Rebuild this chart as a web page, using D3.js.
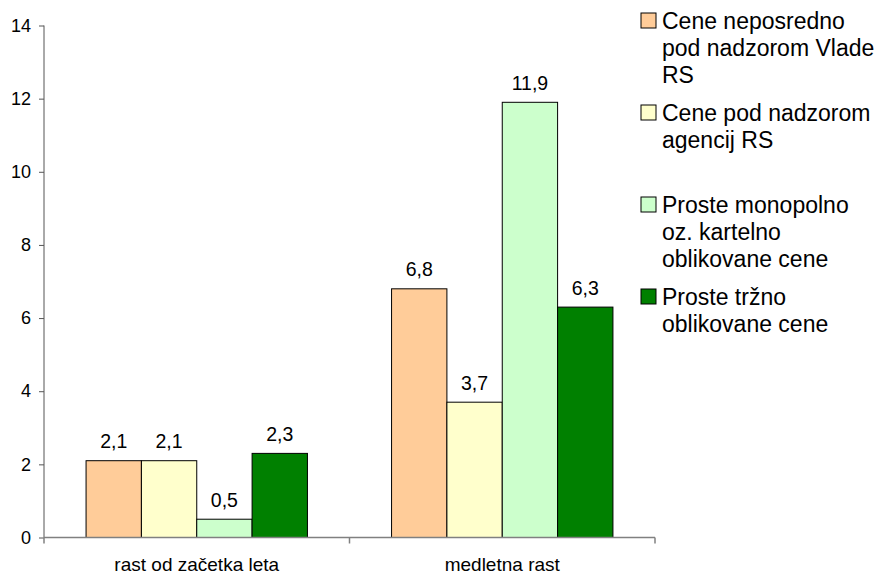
<!DOCTYPE html>
<html>
<head>
<meta charset="utf-8">
<script src="https://cdn.jsdelivr.net/npm/d3@7"></script>
<style>
  html, body { margin: 0; padding: 0; background: #fff; }
  svg text { font-family: "Liberation Sans", Arial, sans-serif; fill: #000; }
</style>
</head>
<body>
<svg id="chart" width="883" height="575"></svg>
<script>
// Categories along the x axis
const categories = ["rast od začetka leta", "medletna rast"];

// Series (one per legend entry), values per category
const seriesNames = [
  ["Cene neposredno", "pod nadzorom Vlade", "RS"],
  ["Cene pod nadzorom", "agencij RS"],
  ["Proste monopolno", "oz. kartelno", "oblikovane cene"],
  ["Proste tržno", "oblikovane cene"]
];
const seriesValues = [
  [2.1, 6.8],
  [2.1, 3.7],
  [0.5, 11.9],
  [2.3, 6.3]
];
const seriesColors = ["#FFCC99", "#FFFFCC", "#CCFFCC", "#008000"];

// Y axis ticks
const yTicks = [0, 2, 4, 6, 8, 10, 12, 14];

const svg = d3.select("#chart");
const plot = { left: 44, right: 655, top: 25.5, bottom: 537.5 };

const x0 = d3.scaleBand().domain(categories).range([plot.left, plot.right]).paddingInner(0).paddingOuter(0);
const x1 = d3.scaleBand().domain(d3.range(seriesValues.length))
  .range([0, x0.bandwidth()]).paddingOuter(0.76).paddingInner(0);
const y = d3.scaleLinear().domain([0, 14]).range([plot.bottom, plot.top]);

const fmt = v => String(v).replace(".", ",");

// Bars
seriesValues.forEach((vals, si) => {
  const g = svg.append("g");
  g.selectAll("rect").data(vals).join("rect")
    .attr("x", (d, ci) => x0(categories[ci]) + x1(si))
    .attr("y", d => y(d))
    .attr("width", x1.bandwidth())
    .attr("height", d => y(0) - y(d))
    .attr("fill", seriesColors[si])
    .attr("stroke", "#000")
    .attr("stroke-width", 1);
  g.selectAll("text").data(vals).join("text")
    .attr("x", (d, ci) => x0(categories[ci]) + x1(si) + x1.bandwidth() / 2)
    .attr("y", d => y(d) - 12.5)
    .attr("text-anchor", "middle")
    .attr("font-size", 19.5)
    .text(d => fmt(d));
});

// Y axis
const yAxis = svg.append("g")
  .attr("transform", `translate(${plot.left},0)`)
  .call(d3.axisLeft(y).tickValues(yTicks).tickSize(5).tickPadding(8).tickFormat(d => d));
yAxis.select(".domain").attr("stroke", "#555").attr("d", `M-0,${plot.top}V${plot.bottom}`);
yAxis.selectAll(".tick line").attr("stroke", "#555");
yAxis.selectAll(".tick text").attr("font-size", 18).attr("font-family", "Liberation Sans, Arial, sans-serif").attr("fill", "#000");

// X axis
const xAxis = svg.append("g")
  .attr("transform", `translate(0,${plot.bottom})`);
xAxis.append("line")
  .attr("x1", plot.left).attr("x2", plot.right)
  .attr("stroke", "#808080").attr("stroke-width", 1.5);
const boundaries = [plot.left, ...categories.map(c => x0(c) + x0.bandwidth())];
xAxis.selectAll("line.tk").data(boundaries).join("line")
  .attr("class", "tk")
  .attr("x1", d => d).attr("x2", d => d)
  .attr("y1", 0).attr("y2", 6)
  .attr("stroke", "#808080").attr("stroke-width", 1.5);
xAxis.selectAll("text").data(categories).join("text")
  .attr("x", d => x0(d) + x0.bandwidth() / 2)
  .attr("y", 33)
  .attr("text-anchor", "middle")
  .attr("font-size", 19)
  .text(d => d);

// Legend
const legend = svg.append("g").attr("transform", "translate(641,13)");
seriesNames.forEach((lines, si) => {
  const g = legend.append("g").attr("transform", `translate(0,${si * 92})`);
  g.append("rect")
    .attr("x", 0).attr("y", 0).attr("width", 15).attr("height", 15)
    .attr("fill", seriesColors[si]).attr("stroke", "#000").attr("stroke-width", 1);
  const t = g.append("text").attr("font-size", 23);
  lines.forEach((ln, li) => {
    t.append("tspan").attr("x", 21).attr("y", 15.5 + li * 27).text(ln);
  });
});
</script>
</body>
</html>
